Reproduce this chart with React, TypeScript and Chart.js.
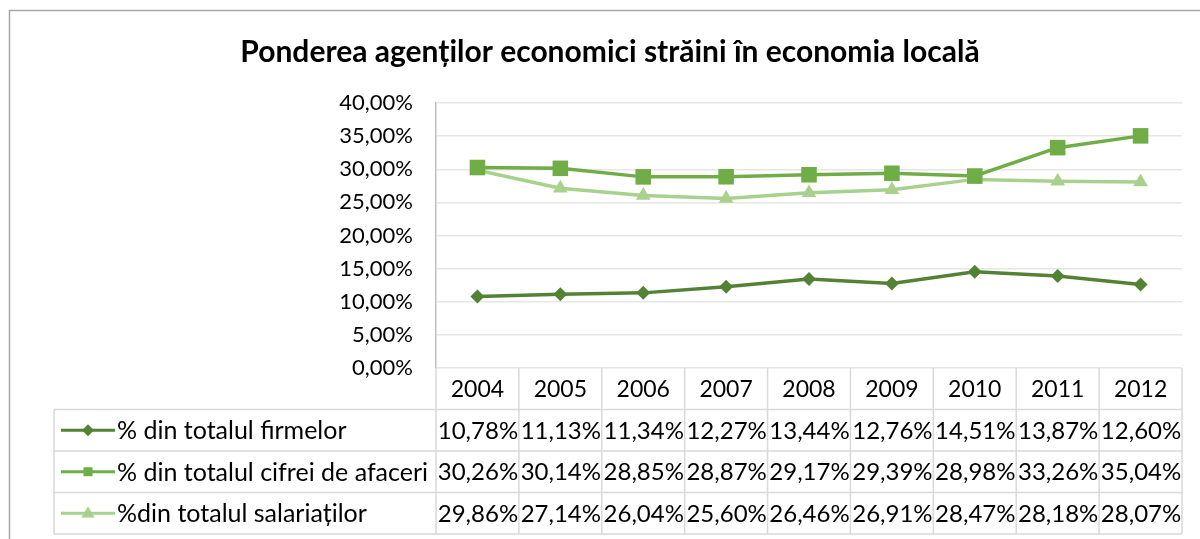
import React, { useEffect, useRef } from 'react';
import { Chart, registerables } from 'chart.js';

Chart.register(...registerables);

const TITLE = 'Ponderea agenților economici străini în economia locală';
const years = ['2004', '2005', '2006', '2007', '2008', '2009', '2010', '2011', '2012'];
const firme = [10.78, 11.13, 11.34, 12.27, 13.44, 12.76, 14.51, 13.87, 12.6];
const cifra = [30.26, 30.14, 28.85, 28.87, 29.17, 29.39, 28.98, 33.26, 35.04];
const salariati = [29.86, 27.14, 26.04, 25.6, 26.46, 26.91, 28.47, 28.18, 28.07];
const seriesNames = [
  '% din totalul firmelor',
  '% din totalul cifrei de afaceri',
  '%din totalul salariaților',
];
const seriesValues = [firme, cifra, salariati];
const seriesColors = ['#548235', '#70AD47', '#A9D18E'];
const seriesMarkers = ['rectRot', 'rect', 'triangle'];
const yMin = 0;
const yMax = 40;
const yStep = 5;

const FONT = 'Lato, "Open Sans", "Liberation Sans", sans-serif';
const fmt = (v: number) => v.toFixed(2).replace('.', ',') + '%';

function drawMarker(ctx: CanvasRenderingContext2D, kind: string, x: number, y: number, s: number, color: string) {
  ctx.save();
  ctx.fillStyle = color;
  ctx.beginPath();
  if (kind === 'rectRot') {
    ctx.moveTo(x, y - s);
    ctx.lineTo(x + s, y);
    ctx.lineTo(x, y + s);
    ctx.lineTo(x - s, y);
  } else if (kind === 'rect') {
    ctx.rect(x - s * 0.75, y - s * 0.75, s * 1.5, s * 1.5);
  } else {
    ctx.moveTo(x, y - s);
    ctx.lineTo(x + s * 0.95, y + s * 0.6);
    ctx.lineTo(x - s * 0.95, y + s * 0.6);
  }
  ctx.closePath();
  ctx.fill();
  ctx.restore();
}

const tablePlugin = {
  id: 'tablePlugin',
  afterDraw(chart: any) {
    const ctx: CanvasRenderingContext2D = chart.ctx;
    const area = chart.chartArea;
    const xs = chart.scales.x;
    const n = years.length;
    const colW = (area.right - area.left) / n;
    const rowH = 41.5;
    const legendLeft = 54;
    const top = area.bottom;
    const bottom = top + rowH * 4;

    ctx.save();
    // outer frame
    ctx.strokeStyle = '#A6A6A6';
    ctx.lineWidth = 1.5;
    ctx.beginPath();
    ctx.moveTo(9.5, 539);
    ctx.lineTo(9.5, 10.5);
    ctx.lineTo(1200, 10.5);
    ctx.stroke();

    // title
    ctx.fillStyle = '#000000';
    ctx.font = `bold 30px ${FONT}`;
    ctx.textAlign = 'center';
    ctx.textBaseline = 'middle';
    ctx.fillText(TITLE, 610, 52);

    // table grid
    ctx.strokeStyle = '#D9D9D9';
    ctx.lineWidth = 1.5;
    ctx.beginPath();
    for (let k = 1; k <= 4; k++) {
      const y = top + rowH * k;
      ctx.moveTo(legendLeft, y);
      ctx.lineTo(area.right, y);
    }
    for (let i = 0; i <= n; i++) {
      const x = area.left + i * colW;
      ctx.moveTo(x, top);
      ctx.lineTo(x, bottom);
    }
    ctx.moveTo(legendLeft, top + rowH);
    ctx.lineTo(legendLeft, bottom);
    ctx.stroke();

    // header years
    ctx.fillStyle = '#000000';
    ctx.font = `23px ${FONT}`;
    ctx.textAlign = 'center';
    ctx.textBaseline = 'middle';
    years.forEach((yr, i) => {
      ctx.fillText(yr, xs.getPixelForValue(i), top + rowH / 2 + 1);
    });

    // rows
    seriesNames.forEach((name, r) => {
      const cy = top + rowH * (r + 1) + rowH / 2 + 1;
      const vals = seriesValues[r];
      ctx.fillStyle = '#000000';
      ctx.font = `24px ${FONT}`;
      ctx.textAlign = 'center';
      vals.forEach((v, i) => {
        ctx.fillText(fmt(v), xs.getPixelForValue(i) + 0.5, cy);
      });
      // legend symbol
      ctx.strokeStyle = seriesColors[r];
      ctx.lineWidth = 3;
      ctx.beginPath();
      ctx.moveTo(61, cy - 1);
      ctx.lineTo(115, cy - 1);
      ctx.stroke();
      drawMarker(ctx, seriesMarkers[r], 88, cy - 1, r === 2 ? 7 : 6, seriesColors[r]);
      ctx.fillStyle = '#000000';
      ctx.font = `25px ${FONT}`;
      ctx.textAlign = 'left';
      ctx.fillText(name, 117, cy);
    });
    ctx.restore();
  },
};

export default function App() {
  const ref = useRef<HTMLCanvasElement | null>(null);
  useEffect(() => {
    if (!ref.current) return;
    const chart = new Chart(ref.current, {
      type: 'line',
      data: {
        labels: years,
        datasets: seriesNames.map((name, i) => ({
          label: name,
          data: seriesValues[i],
          borderColor: seriesColors[i],
          backgroundColor: seriesColors[i],
          borderWidth: 3.5,
          pointStyle: seriesMarkers[i] as any,
          pointRadius: i === 0 ? 7 : i === 1 ? 11 : 8.5,
          pointBorderWidth: 0,
          tension: 0,
        })),
      },
      options: {
        responsive: false,
        animation: false,
        layout: { padding: { left: 336, right: 18, top: 103, bottom: 171 } },
        plugins: { legend: { display: false }, tooltip: { enabled: false }, title: { display: false } },
        scales: {
          x: { type: 'category', offset: true, display: false },
          y: {
            min: yMin,
            max: yMax,
            afterFit: (s: any) => { s.width = 100; },
            border: { display: true, color: '#BFBFBF', width: 1.5 },
            grid: { color: '#E6E6E6', lineWidth: 1.5, drawTicks: false },
            ticks: {
              stepSize: yStep,
              padding: 23,
              color: '#000000',
              font: { family: FONT, size: 22 },
              callback: (v: any) => fmt(Number(v)),
            },
          },
        },
      },
      plugins: [tablePlugin],
    });
    return () => chart.destroy();
  }, []);
  return (
    <div style={{ position: 'absolute', left: 0, top: 0, width: 1200, height: 539, background: '#fff' }}>
      <canvas ref={ref} width={1200} height={539} />
    </div>
  );
}
